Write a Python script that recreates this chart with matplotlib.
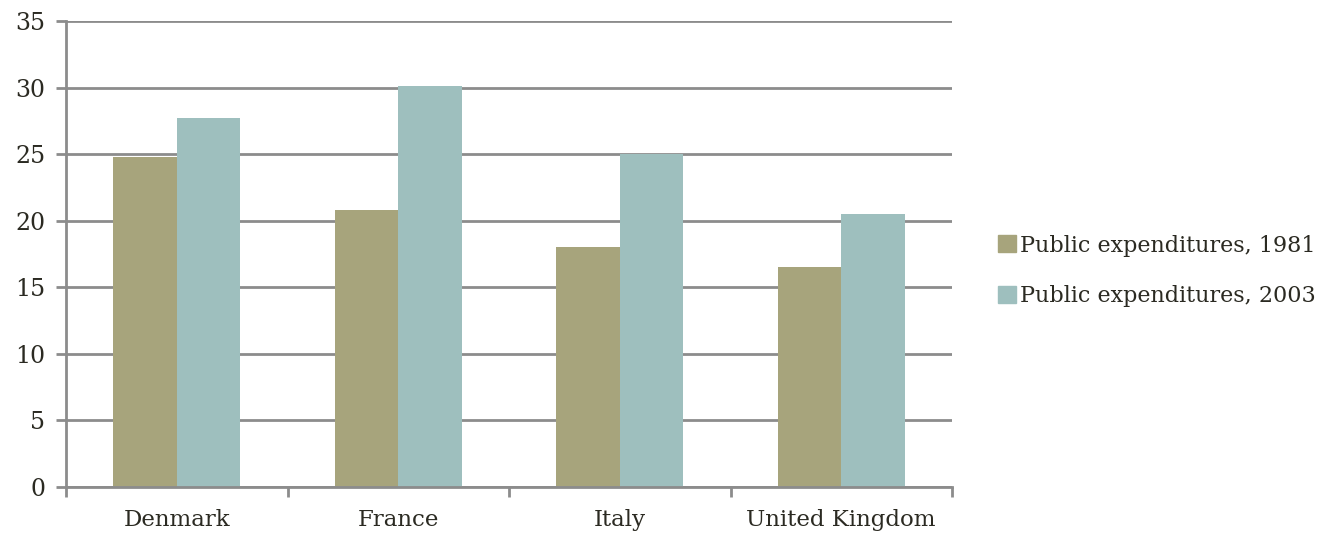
import numpy as np
import matplotlib.pyplot as plt
from matplotlib.patches import Patch

# data
countries = ["Denmark", "France", "Italy", "United Kingdom"]
exp_1981 = [24.8, 20.8, 18.0, 16.5]
exp_2003 = [27.7, 30.1, 25.0, 20.5]
series_names = ["Public expenditures, 1981", "Public expenditures, 2003"]

col_1981 = "#a7a47c"
col_2003 = "#9ebfbe"
grid_col = "#8c8c8c"
text_col = "#2b2a22"

plt.rcParams['font.family'] = ['DejaVu Serif']

fig = plt.figure(figsize=(13.19, 5.39), dpi=100)
ax = fig.add_axes([66 / 1319, 52 / 539, (952 - 66) / 1319, (487 - 21) / 539])

x = np.arange(len(countries))
w = 1 / 3.5
ax.bar(x - w / 2, exp_1981, width=w, color=col_1981, zorder=3)
ax.bar(x + w / 2, exp_2003, width=w, color=col_2003, zorder=3)

ax.set_xlim(-0.5, len(countries) - 0.5)
ax.set_ylim(0, 35)
ax.set_yticks(np.arange(0, 36, 5))
ax.yaxis.grid(True, color=grid_col, linewidth=2, zorder=0)

# category labels centered, tick marks at the boundaries
ax.set_xticks(np.arange(-0.5, len(countries), 1))
ax.set_xticklabels([])
ax.set_xticks(x, minor=True)
ax.set_xticklabels(countries, minor=True, fontsize=16.5, color=text_col)
ax.tick_params(axis='x', which='minor', length=0, pad=16)
ax.tick_params(axis='x', which='major', length=7, width=2, color=grid_col)
ax.tick_params(axis='y', length=7, width=2, color=grid_col, labelsize=17,
               labelcolor=text_col, pad=8)

for s in ["top", "right"]:
    ax.spines[s].set_visible(False)
for s in ["left", "bottom"]:
    ax.spines[s].set_color(grid_col)
    ax.spines[s].set_linewidth(2)
    ax.spines[s].set_zorder(4)

handles = [Patch(color=col_1981), Patch(color=col_2003)]
fig.legend(handles, series_names, loc="center left",
           bbox_to_anchor=(978 / 1319, 1 - 271 / 539), frameon=False,
           fontsize=16, handlelength=0.8, handleheight=0.8, handletextpad=0.2,
           labelspacing=1.3, labelcolor=text_col)

plt.savefig("out.png", dpi=100)
